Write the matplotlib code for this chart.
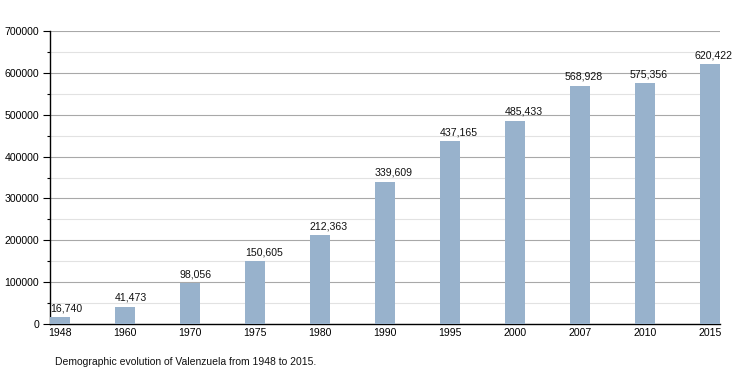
import matplotlib
matplotlib.use("Agg")
import matplotlib.pyplot as plt
from matplotlib.ticker import MultipleLocator, FuncFormatter

plt.rcParams['font.family'] = ['Liberation Sans', 'DejaVu Sans']

years = ["1948", "1960", "1970", "1975", "1980", "1990", "1995", "2000", "2007", "2010", "2015"]
population = [16740, 41473, 98056, 150605, 212363, 339609, 437165, 485433, 568928, 575356, 620422]
caption = "Demographic evolution of Valenzuela from 1948 to 2015."
# horizontal nudge of each value label (points) relative to the bar's left edge
label_dx = [0.5, 0, 0, 0, 0, 0, 0, 0, -3.6, -3.6, -3.6]

fig = plt.figure(figsize=(7.5, 3.73), dpi=100)
ax = fig.add_axes([50/750, 49/373, 670/750, 293/373])

x = list(range(len(years)))
bw = 0.31
ax.bar(x, population, width=bw, color="#98b2cc", zorder=3)
for xi, v, dx in zip(x, population, label_dx):
    ax.annotate(f"{v:,}", (xi - bw/2, v), xytext=(dx, 2.8), textcoords="offset points",
                ha="left", va="bottom", fontsize=7.6, color="#111111", zorder=4)

ax.set_xlim(-bw/2, len(years) - 1 + bw/2)
ax.yaxis.set_major_locator(MultipleLocator(100000))
ax.yaxis.set_minor_locator(MultipleLocator(50000))
ax.yaxis.set_major_formatter(FuncFormatter(lambda t, p: f"{int(round(t))}"))
ax.set_ylim(0, 700000)
ax.grid(axis="y", which="major", color="#a8a8a8", linewidth=0.8, zorder=0)
ax.grid(axis="y", which="minor", color="#e2e2e2", linewidth=0.8, zorder=0)
ax.set_xticks(x)
ax.set_xticklabels(years)
ax.tick_params(axis="x", length=0, pad=3, labelsize=7.6)
ax.tick_params(axis="y", which="major", length=5, width=0.8, labelsize=7.6, pad=3)
ax.tick_params(axis="y", which="minor", length=2.5, width=0.8)
for s in ["top", "right"]:
    ax.spines[s].set_visible(False)
ax.spines["left"].set_linewidth(1)
ax.spines["bottom"].set_linewidth(1)

fig.text(55/750, 1 - 362/373, caption, fontsize=7.5, ha="left", va="center", color="#111111")

fig.savefig("out.png", dpi=100)
